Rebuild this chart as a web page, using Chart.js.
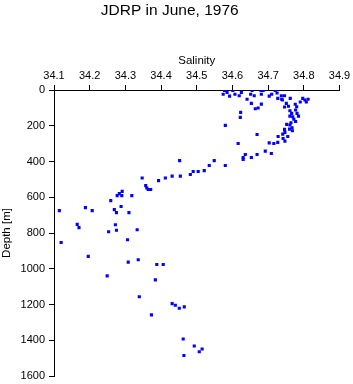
<!DOCTYPE html>
<html>
<head>
<meta charset="utf-8">
<script src="https://cdn.jsdelivr.net/npm/chart.js@4"></script>
<style>
  html, body { margin: 0; padding: 0; background: #fff; }
  canvas { display: block; }
</style>
</head>
<body>
<canvas id="chart" width="353" height="384"></canvas>
<script>
// Salinity / depth pairs
const salinity = [
  34.115, 34.188, 34.207, 34.259, 34.269, 34.275, 34.288, 34.310, 34.165, 34.170,
  34.272, 34.275, 34.253, 34.333, 34.120, 34.306, 34.196, 34.336, 34.308, 34.249,
  34.384, 34.388, 34.406, 34.339, 34.431, 34.440, 34.451, 34.465, 34.373, 34.462,
  34.493, 34.515, 34.507, 34.464, 34.277, 34.283, 34.291, 34.290, 34.318,
  34.452, 34.347, 34.393, 34.412, 34.431, 34.454, 34.482, 34.490, 34.504, 34.521,
  34.535, 34.549, 34.580, 34.357, 34.360, 34.364, 34.371,
  34.578, 34.574, 34.585, 34.592, 34.601, 34.607, 34.619, 34.625, 34.641, 34.651,
  34.655, 34.661, 34.653, 34.680, 34.686, 34.681, 34.681, 34.664, 34.672, 34.623,
  34.622, 34.580, 34.669, 34.616, 34.703, 34.710, 34.720, 34.725, 34.727, 34.737,
  34.738, 34.746, 34.751, 34.762, 34.746, 34.757, 34.761, 34.776, 34.780, 34.777,
  34.766, 34.761, 34.769, 34.772, 34.777, 34.781, 34.785, 34.790, 34.797, 34.803,
  34.812, 34.807, 34.764, 34.761, 34.752, 34.767, 34.760, 34.746, 34.747, 34.741,
  34.768, 34.755, 34.742, 34.728, 34.747, 34.727, 34.716, 34.703, 34.709, 34.692,
  34.669, 34.653, 34.636, 34.630, 34.630, 34.740
];
const depth = [
  675, 658, 675, 619, 669, 686, 652, 686, 752, 770,
  754, 785, 793, 782, 853, 838, 931, 950, 963, 1040,
  1062, 976, 976, 1157, 1195, 1204, 1221, 1213, 1258, 1393,
  1432, 1449, 1464, 1485, 591, 580, 567, 591, 591,
  395, 492, 507, 492, 482, 482, 473, 456, 456, 451,
  422, 395, 422, 535, 548, 557, 557,
  2, 24, 13, 34, 2, 24, 32, 13, 52, 24,
  2, 32, 75, 2, 2, 24, 79, 105, 101, 125,
  153, 198, 249, 299, 34, 24, 2, 17, 47, 32,
  52, 32, 75, 47, 95, 91, 116, 80, 94, 112,
  131, 146, 150, 164, 176, 131, 146, 67, 47, 56,
  52, 67, 183, 196, 192, 211, 219, 220, 237, 247,
  228, 260, 271, 260, 286, 293, 299, 296, 355, 342,
  361, 378, 361, 378, 389, 56
];
const xTicks = [34.1, 34.2, 34.3, 34.4, 34.5, 34.6, 34.7, 34.8, 34.9];
const yTicks = [0, 200, 400, 600, 800, 1000, 1200, 1400, 1600];

const FONT = 'Liberation Sans, Arial, Helvetica, sans-serif';
const points = salinity.map((s, i) => ({ x: s, y: depth[i] }));

new Chart(document.getElementById('chart').getContext('2d'), {
  type: 'scatter',
  data: {
    datasets: [{
      data: points,
      pointStyle: 'rect',
      pointRadius: 2.2,
      borderWidth: 0,
      backgroundColor: '#0000ff',
      borderColor: '#0000ff'
    }]
  },
  options: {
    responsive: false,
    animation: false,
    layout: { padding: { left: 0, right: 13.5, top: 0, bottom: 8 } },
    plugins: {
      legend: { display: false },
      tooltip: { enabled: false },
      title: {
        display: true,
        text: 'JDRP in June, 1976',
        color: '#000',
        font: { family: FONT, size: 15.5, weight: 'normal' },
        padding: { top: 1, bottom: 34.4 }
      }
    },
    scales: {
      x: {
        type: 'linear',
        position: 'top',
        min: xTicks[0],
        max: xTicks[xTicks.length - 1],
        afterBuildTicks: s => { s.ticks = xTicks.map(v => ({ value: v })); },
        afterFit: s => { s.height = 36; },
        title: {
          display: true,
          text: 'Salinity',
          color: '#000',
          font: { family: FONT, size: 11.5 },
          padding: { top: 0, bottom: 1 }
        },
        ticks: {
          color: '#000',
          font: { family: FONT, size: 11 },
          padding: 2,
          maxRotation: 0,
          callback: v => v.toFixed(1)
        },
        grid: { drawOnChartArea: false, drawTicks: true, tickLength: 5, color: '#000', lineWidth: 1 },
        border: { display: true, color: '#000', width: 1 }
      },
      y: {
        type: 'linear',
        reverse: true,
        min: yTicks[0],
        max: yTicks[yTicks.length - 1],
        afterBuildTicks: s => { s.ticks = yTicks.map(v => ({ value: v })); },
        afterFit: s => { s.width = 54; s.paddingTop = 0; s.paddingBottom = 0; },
        title: {
          display: true,
          text: 'Depth [m]',
          color: '#000',
          font: { family: FONT, size: 11.5 },
          padding: { top: 0, bottom: 0 }
        },
        ticks: {
          color: '#000',
          font: { family: FONT, size: 11 },
          padding: 4,
          callback: v => String(v)
        },
        grid: { drawOnChartArea: false, drawTicks: true, tickLength: 5, color: '#000', lineWidth: 1 },
        border: { display: true, color: '#000', width: 1 }
      }
    }
  }
});
</script>
</body>
</html>
